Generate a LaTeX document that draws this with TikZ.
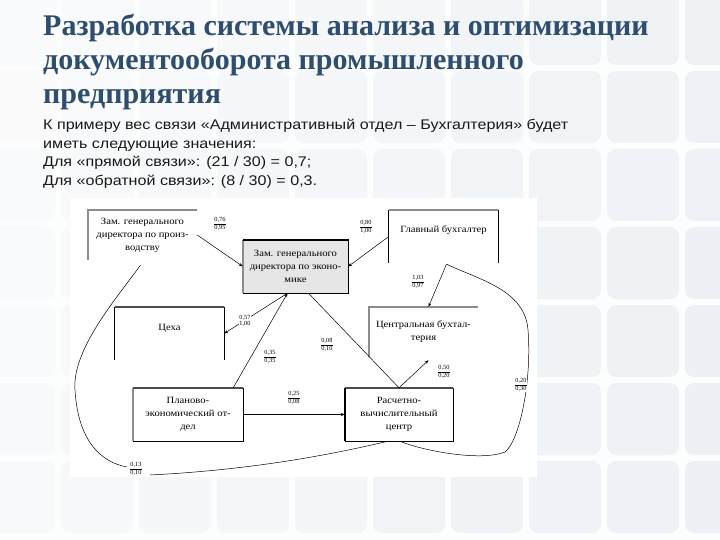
\documentclass[tikz,border=0pt]{standalone}
\usepackage{fontspec}
\setmainfont{Liberation Serif}
\newfontfamily\bodyfont{Liberation Sans}
\newfontfamily\diagfont[FakeStretch=1.12]{Liberation Serif}
\usetikzlibrary{arrows.meta,calc}
\definecolor{titlec}{HTML}{2F4D6E}
\definecolor{tilec}{HTML}{D9E1EA}
\definecolor{boxfill}{HTML}{E6E6E6}
\newcommand\wfrac[2]{\underline{#1}\\[-0.5pt]#2}
\newcommand\bodyline[1]{\scalebox{1.15}[1]{#1}}
\begin{document}
\begin{tikzpicture}[x=1pt,y=-1pt,
  boxnode/.style={rectangle, inner sep=1pt, align=center, font=\diagfont\fontsize{9.5}{13}\selectfont},
  shadowedge/.style={draw=black!45, line width=2.2pt},
  blackedge/.style={draw=black, line width=0.7pt},
  conn/.style={draw=black, line width=0.5pt},
  arr/.style={conn, -{Stealth[length=4pt,width=3pt]}},
  wlabel/.style={font=\fontsize{6.3}{7}\selectfont, align=center, inner sep=0.5pt, fill=white},
  titletext/.style={anchor=base west, inner sep=0, text=titlec, font=\fontsize{30}{34}\selectfont\bfseries},
  bodytext/.style={anchor=base west, inner sep=0, text=black!90, font=\bodyfont\fontsize{14}{16}\selectfont}]
\useasboundingbox (0,0) rectangle (720,540);
% slide background
\fill[white!60!tilec!35] (0,0) rectangle (720,540);
\foreach \i in {0,...,9} {
  \foreach \j in {0,...,6} {
    \pgfmathsetmacro\op{min(1,0.15+0.75*\i/9+0.15*\j/6)}
    \fill[tilec, opacity=\op, rounded corners=9pt] ({\i*78-20+3},{\j*78-10+3}) rectangle ({\i*78-20+75},{\j*78-10+75});
  }
}
\fill[white, opacity=0.55] (0,0) rectangle (720,540);
% title
\node[titletext] (t1) at (43,36) {Разработка системы анализа и оптимизации};
\node[titletext] (t2) at (43,70) {документооборота промышленного};
\node[titletext] (t3) at (43,104) {предприятия};
% body
\node[bodytext] (b1) at (43,130) {\bodyline{К примеру вес связи «Административный отдел – Бухгалтерия» будет}};
\node[bodytext] (b2) at (43,149) {\bodyline{иметь следующие значения:}};
\node[bodytext] (b3) at (43,167) {\bodyline{Для «прямой связи»: (21 / 30) = 0,7;}};
\node[bodytext] (b4) at (43,186) {\bodyline{Для «обратной связи»: (8 / 30) = 0,3.}};
% diagram area
\fill[white] (70,198) rectangle (537,477);
% boxes
\node[boxnode, minimum width=109pt, minimum height=50pt] (A) at (142.5,235) {Зам. генерального\\директора по произ-\\водству};
\node[boxnode, fill=boxfill, minimum width=105pt, minimum height=53pt] (B) at (295.5,266.5) {Зам. генерального\\директора по эконо-\\мике};
\node[boxnode, minimum width=109pt, minimum height=53pt, text depth=14pt] (C) at (443.5,236.5) {Главный бухгалтер};
\node[boxnode, minimum width=109pt, minimum height=53pt, text depth=12pt] (D) at (169.5,333.5) {Цеха};
\node[boxnode, minimum width=109pt, minimum height=50pt] (E) at (423.5,332) {Центральная бухтал-\\терия};
\node[boxnode, minimum width=110pt, minimum height=53pt] (F) at (188,414.5) {Планово-\\экономический от-\\дел};
\node[boxnode, minimum width=108pt, minimum height=53pt] (G) at (399,414.5) {Расчетно-\\вычислительный\\центр};
% box edges
\draw[shadowedge] (A.south west) -- (A.north west) -- (A.north east);
\draw[shadowedge] (B.south west) -- (B.north west);
\draw[blackedge, line width=1.4pt] (B.north west) -- (B.north east) -- (B.south east) -- (B.south west);
\draw[shadowedge] (C.north west) -- (C.north east);
\draw[blackedge] (C.south west) -- (C.north west);
\draw[blackedge] (C.north east) -- (C.south east);
\draw[shadowedge, draw=black!70] (D.north west) -- (D.north east);
\draw[blackedge] (D.south west) -- (D.north west);
\draw[blackedge] (D.north east) -- (D.south east);
\draw[shadowedge] (E.south west) -- (E.north west) -- (E.north east);
\draw[shadowedge] (F.south west) -- (F.north west);
\draw[shadowedge, draw=black!70] (F.north west) -- (F.north east);
\draw[blackedge] (F.north east) -- (F.south east) -- (F.south west);
\draw[shadowedge, draw=black!70] (G.north west) -- (G.north east);
\draw[blackedge, line width=1.4pt] (G.north west) -- (G.south west);
\draw[blackedge] (G.north east) -- (G.south east) -- (G.south west);
% connectors
\coordinate (Bs1) at ($(B.south)+(-8,0)$);
\coordinate (Bs2) at ($(B.south)+(13,0)$);
\coordinate (Cs) at ($(C.south)+(3,1)$);
\draw[arr] (A.east) -- (B.west);
\draw[arr] (C.west) -- (B.east);
\draw[arr] (Cs) -- ($(E.north)+(5,0)$);
\draw[arr] (Bs1) -- (D.east);
\draw[arr] ($(F.north east)+(-10,0)$) -- (Bs1);
\draw[conn] (Bs2) -- (G.north);
\draw[arr] (G.north) -- ($(E.south)+(5,3)$);
\draw[arr] (F.east) -- (G.west);
\draw[conn] ($(A.south)+(-2,5)$) .. controls (115,300) and (72,350) .. (75,390)
   .. controls (78,440) and (100,462) .. (127,467);
\draw[conn] (150,475) .. controls (250,470) and (330,455) .. ($(G.south)+(-11,0)$);
\draw[conn] (Cs) .. controls (480,280) and (525,290) .. (528,330)
   .. controls (532,380) and (520,440) .. (505,452)
   .. controls (480,462) and (420,450) .. ($(G.south)+(1,0)$);
% labels
\node[wlabel] (l1) at (220,224) {\wfrac{0,76}{0,95}};
\node[wlabel] (l2) at (366,227) {\wfrac{0,80}{1,00}};
\node[wlabel] (l3) at (418,282) {\wfrac{1,03}{0,97}};
\node[wlabel] (l4) at (245,321) {0,57\\[-0.5pt]1,00};
\node[wlabel] (l5) at (270,357) {\wfrac{0,35}{0,35}};
\node[wlabel] (l6) at (327,345) {\wfrac{0,08}{0,10}};
\node[wlabel] (l7) at (444,372) {\wfrac{0,50}{0,20}};
\node[wlabel] (l8) at (521,385) {\wfrac{0,20}{0,30}};
\node[wlabel] (l9) at (294,398) {\wfrac{0,25}{0,08}};
\node[wlabel] (l10) at (136,469) {\wfrac{0,13}{0,10}};
\end{tikzpicture}
\end{document}
